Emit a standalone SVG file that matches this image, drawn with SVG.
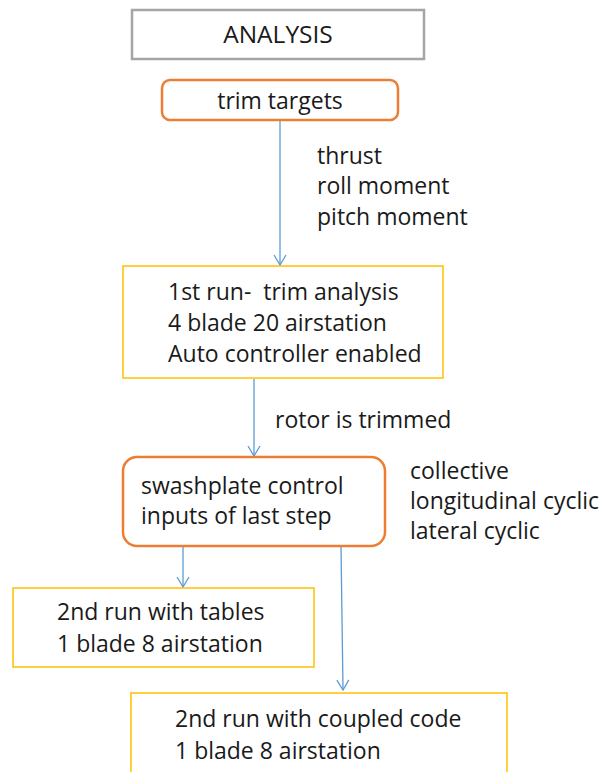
<svg xmlns="http://www.w3.org/2000/svg" width="606" height="772" viewBox="0 0 606 772">
<defs>
<style>
text{font-family:"Open Sans","Liberation Sans",sans-serif;font-size:23px;fill:#1a1a1a;white-space:pre}
.gray{fill:#fff;stroke:#a5a5a5;stroke-width:2.5}
.orange{fill:#fff;stroke:#ed7d31;stroke-width:2.5}
.yellow{fill:#fff;stroke:#ffc000;stroke-width:1.5}
.conn{stroke:#5b9bd5;stroke-width:1.3;fill:none;marker-end:url(#arr)}
</style>
<marker id="arr" viewBox="0 0 14 14" refX="12" refY="7" markerWidth="14" markerHeight="14" markerUnits="userSpaceOnUse" orient="auto">
<path d="M2,1 L12,7 L2,13" fill="none" stroke="#5b9bd5" stroke-width="1.3"/>
</marker>
</defs>
<rect width="606" height="772" fill="#fff"/>
<g id="connectors">
<line class="conn" x1="280" y1="121" x2="280" y2="265"/>
<line class="conn" x1="254" y1="379" x2="254" y2="456"/>
<line class="conn" x1="183" y1="547" x2="183" y2="587"/>
<line class="conn" x1="341" y1="547" x2="343" y2="690"/>
</g>
<g id="analysis">
<rect class="gray" x="132" y="10" width="292" height="49"/>
<text x="278" y="43" text-anchor="middle" style="font-size:24.5px">ANALYSIS</text>
</g>
<g id="trim-targets">
<rect class="orange" x="162" y="80" width="236" height="40" rx="8"/>
<text x="280" y="109" text-anchor="middle">trim targets</text>
</g>
<g id="label-targets">
<text x="317" y="164">thrust</text>
<text x="317" y="194">roll moment</text>
<text x="317" y="225">pitch moment</text>
</g>
<g id="first-run">
<rect class="yellow" x="123" y="266" width="320" height="112"/>
<text x="168" y="300" xml:space="preserve">1st run-  trim analysis</text>
<text x="168" y="331">4 blade 20 airstation</text>
<text x="168" y="362">Auto controller enabled</text>
</g>
<g id="label-trimmed">
<text x="275" y="428">rotor is trimmed</text>
</g>
<g id="swashplate">
<rect class="orange" x="123" y="457" width="262" height="89" rx="14"/>
<text x="141" y="494">swashplate control</text>
<text x="141" y="524">inputs of last step</text>
</g>
<g id="label-controls">
<text x="410" y="479">collective</text>
<text x="410" y="509">longitudinal cyclic</text>
<text x="410" y="539">lateral cyclic</text>
</g>
<g id="second-run-tables">
<rect class="yellow" x="13" y="588" width="301" height="79"/>
<text x="57" y="620">2nd run with tables</text>
<text x="57" y="652">1 blade 8 airstation</text>
</g>
<g id="second-run-coupled">
<rect class="yellow" x="131" y="693" width="376" height="90"/>
<text x="175" y="727">2nd run with coupled code</text>
<text x="175" y="759">1 blade 8 airstation</text>
</g>
</svg>
